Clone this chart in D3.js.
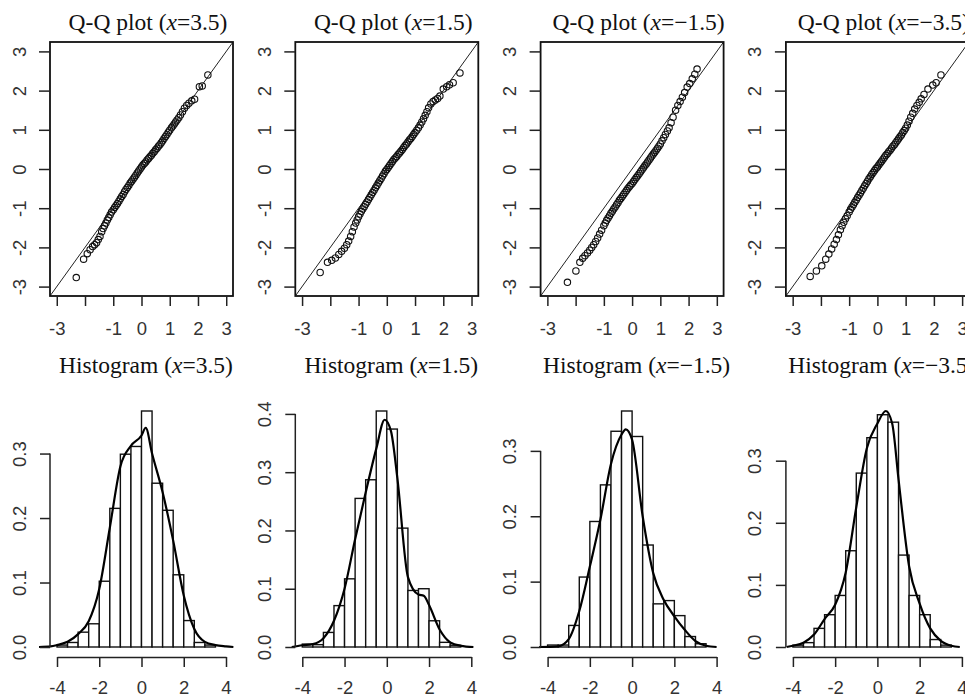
<!DOCTYPE html>
<html>
<head>
<meta charset="utf-8">
<script src="https://cdn.jsdelivr.net/npm/d3@7"></script>
<style>
    body { margin: 0; background: #fff; }
    svg { display: block; }
    .axis text { font-family: "Liberation Sans", Arial, sans-serif; font-size: 18.5px; fill: #333; }
    .axis line, .axis path { stroke: #222; stroke-width: 1.5; }
    .title { font-family: "Liberation Serif", "Times New Roman", serif; font-size: 23.5px; fill: #111; }
</style>
</head>
<body>
<div id="chart-ctn"></div>
<script>
// Panel labels (value of x in the titles)
let xValues = ["3.5", "1.5", "\u22121.5", "\u22123.5"];

// Histogram bins: left edges, width 0.5
let binEdges = [-4, -3.5, -3, -2.5, -2, -1.5, -1, -0.5, 0, 0.5, 1, 1.5, 2, 2.5, 3, 3.5];
let binWidth = 0.5;

// Bar heights (density)
let histX35  = [0.003, 0.007, 0.023, 0.036, 0.102, 0.215, 0.299, 0.311, 0.366, 0.254, 0.212, 0.112, 0.041, 0.007, 0.003, 0];
let histX15  = [0.005, 0.004, 0.025, 0.071, 0.117, 0.255, 0.287, 0.405, 0.374, 0.204, 0.097, 0.100, 0.045, 0.008, 0.003, 0];
let histXm15 = [0.003, 0.003, 0.033, 0.107, 0.192, 0.248, 0.330, 0.361, 0.322, 0.156, 0.066, 0.071, 0.048, 0.016, 0.005, 0];
let histXm35 = [0.003, 0.007, 0.030, 0.052, 0.083, 0.155, 0.280, 0.337, 0.374, 0.362, 0.148, 0.083, 0.052, 0.012, 0.003, 0];

// Kernel density curves [x, density]
let densX35 = [[-4.85, 0], [-4.3, 0.001], [-4, 0.003], [-3.5, 0.008], [-3, 0.02], [-2.5, 0.04], [-2, 0.09],
    [-1.5, 0.185], [-1, 0.28], [-0.5, 0.312], [0, 0.328], [0.2, 0.34], [0.5, 0.3], [1, 0.24],
    [1.5, 0.165], [2, 0.08], [2.5, 0.028], [3, 0.008], [3.5, 0.003], [4, 0.001], [4.35, 0]];
let densX15 = [[-4.5, 0], [-4, 0.003], [-3.5, 0.005], [-3, 0.015], [-2.5, 0.045], [-2, 0.1], [-1.5, 0.185],
    [-1, 0.265], [-0.5, 0.34], [-0.1, 0.39], [0.2, 0.37], [0.5, 0.29], [1, 0.12], [1.5, 0.09],
    [1.75, 0.088], [2, 0.072], [2.5, 0.03], [3, 0.008], [3.5, 0.002], [4.1, 0]];
let densXm15 = [[-4.4, 0], [-3.5, 0.001], [-3, 0.012], [-2.5, 0.055], [-2, 0.123], [-1.5, 0.195], [-1, 0.28],
    [-0.5, 0.325], [-0.3, 0.333], [0, 0.317], [0.5, 0.2], [1, 0.113], [1.5, 0.072], [2, 0.047],
    [2.5, 0.026], [3, 0.009], [3.5, 0.002], [4, 0]];
let densXm35 = [[-4.3, 0], [-4, 0.002], [-3.5, 0.007], [-3, 0.02], [-2.5, 0.045], [-2, 0.068], [-1.5, 0.12],
    [-1, 0.225], [-0.5, 0.32], [0, 0.36], [0.4, 0.38], [0.7, 0.36], [1, 0.27], [1.5, 0.13],
    [2, 0.07], [2.5, 0.03], [3, 0.01], [3.5, 0.002], [3.9, 0]];

// Q-Q points [theoretical, sample]
let qqX35 = [[-2.31, -2.77], [-2.05, -2.30], [-1.92, -2.16], [-1.82, -2.06], [-1.73, -1.98], [-1.66, -1.93],
    [-1.59, -1.88], [-1.53, -1.80], [-1.47, -1.72], [-1.41, -1.60], [-1.36, -1.52], [-1.31, -1.45],
    [-1.26, -1.38], [-1.21, -1.30], [-1.16, -1.24], [-1.11, -1.17], [-1.06, -1.10], [-1.0, -1.04],
    [-0.95, -0.98], [-0.9, -0.93], [-0.85, -0.88], [-0.8, -0.82], [-0.75, -0.76], [-0.7, -0.70],
    [-0.65, -0.65], [-0.6, -0.58], [-0.55, -0.52], [-0.5, -0.47], [-0.45, -0.42], [-0.4, -0.36],
    [-0.35, -0.31], [-0.3, -0.26], [-0.25, -0.21], [-0.2, -0.16], [-0.15, -0.10], [-0.1, -0.05],
    [-0.05, 0.0], [0, 0.05], [0.05, 0.10], [0.1, 0.14], [0.15, 0.18], [0.2, 0.23], [0.25, 0.27],
    [0.3, 0.31], [0.35, 0.35], [0.4, 0.40], [0.45, 0.44], [0.5, 0.49], [0.55, 0.53], [0.6, 0.58],
    [0.65, 0.62], [0.7, 0.67], [0.75, 0.72], [0.8, 0.78], [0.85, 0.83], [0.9, 0.88], [0.95, 0.94],
    [1.0, 0.99], [1.06, 1.05], [1.11, 1.10], [1.16, 1.15], [1.21, 1.20], [1.26, 1.25], [1.32, 1.31],
    [1.38, 1.38], [1.45, 1.46], [1.52, 1.55], [1.60, 1.62], [1.68, 1.68], [1.78, 1.74], [1.88, 1.78],
    [2.05, 2.10], [2.15, 2.12], [2.35, 2.40]];
let qqX15 = [[-2.36, -2.64], [-2.10, -2.38], [-1.95, -2.33], [-1.82, -2.27], [-1.70, -2.18], [-1.60, -2.10],
    [-1.50, -2.02], [-1.42, -1.93], [-1.35, -1.84], [-1.28, -1.72], [-1.22, -1.60], [-1.16, -1.48],
    [-1.10, -1.38], [-1.05, -1.30], [-1.0, -1.22], [-0.95, -1.15], [-0.9, -1.08], [-0.85, -1.02],
    [-0.8, -0.96], [-0.75, -0.90], [-0.7, -0.84], [-0.65, -0.78], [-0.6, -0.72], [-0.55, -0.66],
    [-0.5, -0.60], [-0.45, -0.54], [-0.4, -0.48], [-0.35, -0.42], [-0.3, -0.36], [-0.25, -0.30],
    [-0.2, -0.24], [-0.15, -0.18], [-0.1, -0.12], [-0.05, -0.06], [0, -0.01], [0.05, 0.04],
    [0.1, 0.09], [0.15, 0.14], [0.2, 0.19], [0.25, 0.24], [0.3, 0.28], [0.35, 0.32], [0.4, 0.37],
    [0.45, 0.41], [0.5, 0.45], [0.55, 0.50], [0.6, 0.55], [0.65, 0.60], [0.7, 0.64], [0.75, 0.69],
    [0.8, 0.74], [0.85, 0.78], [0.9, 0.83], [0.95, 0.88], [1.0, 0.93], [1.06, 0.99], [1.12, 1.05],
    [1.18, 1.12], [1.24, 1.20], [1.30, 1.28], [1.36, 1.37], [1.42, 1.46], [1.48, 1.56], [1.56, 1.66],
    [1.64, 1.72], [1.72, 1.76], [1.80, 1.80], [1.88, 1.86], [2.0, 2.04], [2.12, 2.10], [2.22, 2.15],
    [2.35, 2.20], [2.59, 2.45]];
let qqXm15 = [[-2.29, -2.89], [-1.99, -2.60], [-1.85, -2.38], [-1.75, -2.28], [-1.67, -2.21], [-1.58, -2.14],
    [-1.50, -2.07], [-1.43, -2.0], [-1.36, -1.93], [-1.29, -1.85], [-1.22, -1.76], [-1.15, -1.66],
    [-1.08, -1.56], [-1.0, -1.45], [-0.95, -1.38], [-0.9, -1.31], [-0.85, -1.25], [-0.8, -1.19],
    [-0.75, -1.13], [-0.7, -1.08], [-0.65, -1.02], [-0.6, -0.97], [-0.55, -0.91], [-0.5, -0.86],
    [-0.45, -0.80], [-0.4, -0.75], [-0.35, -0.70], [-0.3, -0.65], [-0.25, -0.60], [-0.2, -0.55],
    [-0.15, -0.50], [-0.1, -0.45], [-0.05, -0.41], [0, -0.37], [0.05, -0.32], [0.1, -0.27],
    [0.15, -0.22], [0.2, -0.17], [0.25, -0.12], [0.3, -0.07], [0.35, -0.02], [0.4, 0.03], [0.45, 0.08],
    [0.5, 0.13], [0.55, 0.18], [0.6, 0.23], [0.65, 0.28], [0.7, 0.33], [0.75, 0.38], [0.8, 0.43],
    [0.85, 0.48], [0.9, 0.53], [0.95, 0.58], [1.0, 0.64], [1.06, 0.72], [1.12, 0.80], [1.18, 0.88],
    [1.25, 0.97], [1.31, 1.05], [1.38, 1.18], [1.45, 1.32], [1.54, 1.50], [1.62, 1.62], [1.70, 1.72],
    [1.78, 1.83], [1.86, 1.95], [1.95, 2.09], [2.04, 2.18], [2.13, 2.30], [2.22, 2.42], [2.30, 2.55]];
let qqXm35 = [[-2.38, -2.74], [-2.16, -2.60], [-1.97, -2.47], [-1.83, -2.30], [-1.72, -2.17], [-1.62, -2.04],
    [-1.53, -1.92], [-1.45, -1.80], [-1.38, -1.68], [-1.31, -1.55], [-1.25, -1.45], [-1.19, -1.36],
    [-1.13, -1.27], [-1.07, -1.19], [-1.0, -1.10], [-0.95, -1.03], [-0.9, -0.97], [-0.85, -0.91],
    [-0.8, -0.85], [-0.75, -0.79], [-0.7, -0.73], [-0.65, -0.67], [-0.6, -0.61], [-0.55, -0.55],
    [-0.5, -0.49], [-0.45, -0.43], [-0.4, -0.37], [-0.35, -0.31], [-0.3, -0.25], [-0.25, -0.20],
    [-0.2, -0.14], [-0.15, -0.09], [-0.1, -0.04], [-0.05, 0.01], [0, 0.05], [0.05, 0.10], [0.1, 0.15],
    [0.15, 0.20], [0.2, 0.25], [0.25, 0.30], [0.3, 0.35], [0.35, 0.39], [0.4, 0.44], [0.45, 0.48],
    [0.5, 0.53], [0.55, 0.58], [0.6, 0.62], [0.65, 0.67], [0.7, 0.72], [0.75, 0.77], [0.8, 0.82],
    [0.85, 0.87], [0.9, 0.93], [0.95, 0.98], [1.0, 1.04], [1.06, 1.12], [1.12, 1.22], [1.18, 1.32],
    [1.25, 1.42], [1.32, 1.53], [1.40, 1.62], [1.48, 1.70], [1.55, 1.79], [1.65, 1.90], [1.79, 2.04],
    [1.96, 2.14], [2.08, 2.20], [2.25, 2.40]];

// Axis ticks
let qqTicks = [-3, -2, -1, 0, 1, 2, 3];
let qqXTickLabels = ["-3", "", "-1", "0", "1", "2", "3"];
let qqYTickLabels = ["-3", "-2", "-1", "0", "1", "2", "3"];
let histXTicks = [-4, -2, 0, 2, 4];
let histYTicks3 = [0, 0.1, 0.2, 0.3];
let histYTicks4 = [0, 0.1, 0.2, 0.3, 0.4];

let hists = [histX35, histX15, histXm15, histXm35];
let dens = [densX35, densX15, densXm15, densXm35];
let qqs = [qqX35, qqX15, qqXm15, qqXm35];
let yTickSets = [histYTicks3, histYTicks4, histYTicks3, histYTicks3];

let width = 965;
let height = 697;

let svg = d3.select("#chart-ctn").append("svg")
    .attr("width", width)
    .attr("height", height);

function addTitle(g, cx, y, word, value) {
    let t = g.append("text").attr("class", "title")
        .attr("x", cx).attr("y", y).attr("text-anchor", "middle");
    t.append("tspan").text(word + " (");
    t.append("tspan").style("font-style", "italic").text("x");
    t.append("tspan").text("=" + value + ")");
}

// rotate the y tick labels like R does (las = 0)
function rotateYLabels(axisG, labels) {
    axisG.selectAll(".tick text")
        .text((d, j) => labels[j])
        .attr("x", 0)
        .attr("y", -24.5)
        .attr("dy", 0)
        .attr("text-anchor", "middle")
        .attr("transform", "rotate(-90)");
}

function drawPanel(i) {
    let x0 = 57 + i * 245.3;
    let g = svg.append("g");

    // ---- Q-Q plot ----
    let qx = d3.scaleLinear().domain([-3.24, 3.24]).range([x0 - 7, x0 + 176]);
    let qy = d3.scaleLinear().domain([-3.24, 3.24]).range([296, 42]);

    let clipId = "clip" + i;
    g.append("clipPath").attr("id", clipId)
        .append("rect")
        .attr("x", qx(-3.24)).attr("y", qy(3.24))
        .attr("width", qx(3.24) - qx(-3.24)).attr("height", qy(-3.24) - qy(3.24));

    g.append("line")
        .attr("clip-path", "url(#" + clipId + ")")
        .attr("x1", qx(-3.24)).attr("y1", qy(-3.24))
        .attr("x2", qx(3.24)).attr("y2", qy(3.24))
        .attr("stroke", "#222").attr("stroke-width", 1);

    g.append("g").attr("clip-path", "url(#" + clipId + ")")
        .selectAll("circle")
        .data(qqs[i])
        .join("circle")
        .attr("cx", (d) => qx(d[0]))
        .attr("cy", (d) => qy(d[1]))
        .attr("r", 3.2)
        .attr("fill", "none")
        .attr("stroke", "#111")
        .attr("stroke-width", 1.1);

    g.append("rect")
        .attr("x", qx(-3.24)).attr("y", qy(3.24))
        .attr("width", qx(3.24) - qx(-3.24)).attr("height", qy(-3.24) - qy(3.24))
        .attr("fill", "none").attr("stroke", "#111").attr("stroke-width", 1.8);

    let qxAxis = g.append("g").attr("class", "axis")
        .attr("transform", `translate(0, ${qy(-3.24)})`)
        .call(d3.axisBottom(qx).tickValues(qqTicks)
            .tickFormat((d, j) => qqXTickLabels[j])
            .tickSize(10).tickPadding(16));
    qxAxis.select(".domain").remove();

    let qyAxis = g.append("g").attr("class", "axis")
        .attr("transform", `translate(${qx(-3.24)}, 0)`)
        .call(d3.axisLeft(qy).tickValues(qqTicks).tickSize(11));
    qyAxis.select(".domain").remove();
    rotateYLabels(qyAxis, qqYTickLabels);

    addTitle(g, x0 + 91, 30, "Q-Q plot", xValues[i]);

    // ---- Histogram ----
    let bars = hists[i];
    let curve = dens[i];
    let yMax = Math.max(d3.max(bars), d3.max(curve, (d) => d[1]));
    let hx = d3.scaleLinear().domain([-4, 4]).range([x0, x0 + 169]);
    let hy = d3.scaleLinear().domain([0, yMax]).range([647, 411]);

    g.append("g")
        .selectAll("rect")
        .data(bars.map((h, j) => ({ x: binEdges[j], h: h })).filter((d) => d.h > 0))
        .join("rect")
        .attr("x", (d) => hx(d.x))
        .attr("width", (d) => hx(d.x + binWidth) - hx(d.x))
        .attr("y", (d) => hy(d.h))
        .attr("height", (d) => hy(0) - hy(d.h))
        .attr("fill", "#fff")
        .attr("stroke", "#111")
        .attr("stroke-width", 1.4);

    let line = d3.line()
        .x((d) => hx(d[0]))
        .y((d) => hy(d[1]))
        .curve(d3.curveMonotoneX);
    g.append("path")
        .datum(curve)
        .attr("d", line)
        .attr("fill", "none")
        .attr("stroke", "#000")
        .attr("stroke-width", 2.2);

    g.append("g").attr("class", "axis")
        .attr("transform", "translate(0, 657)")
        .call(d3.axisBottom(hx).tickValues(histXTicks)
            .tickFormat(d3.format("d"))
            .tickSize(10).tickSizeOuter(0).tickPadding(14))
        .selectAll(".tick text")
        .text((d) => (d < 0 ? "-" + Math.abs(d) : d));

    let yTicks = yTickSets[i];
    let hyAxis = g.append("g").attr("class", "axis")
        .attr("transform", `translate(${x0 - 7}, 0)`)
        .call(d3.axisLeft(hy).tickValues(yTicks).tickSize(10));
    hyAxis.select(".domain").remove();
    hyAxis.append("line")
        .attr("x1", 0).attr("x2", 0)
        .attr("y1", hy(0)).attr("y2", hy(yTicks[yTicks.length - 1]))
        .attr("stroke", "#222").attr("stroke-width", 1.5);
    rotateYLabels(hyAxis, yTicks.map((v) => v.toFixed(1)));

    addTitle(g, x0 + 89, 373, "Histogram", xValues[i]);
}

for (let i = 0; i < 4; i++) drawPanel(i);
</script>
</body>
</html>
